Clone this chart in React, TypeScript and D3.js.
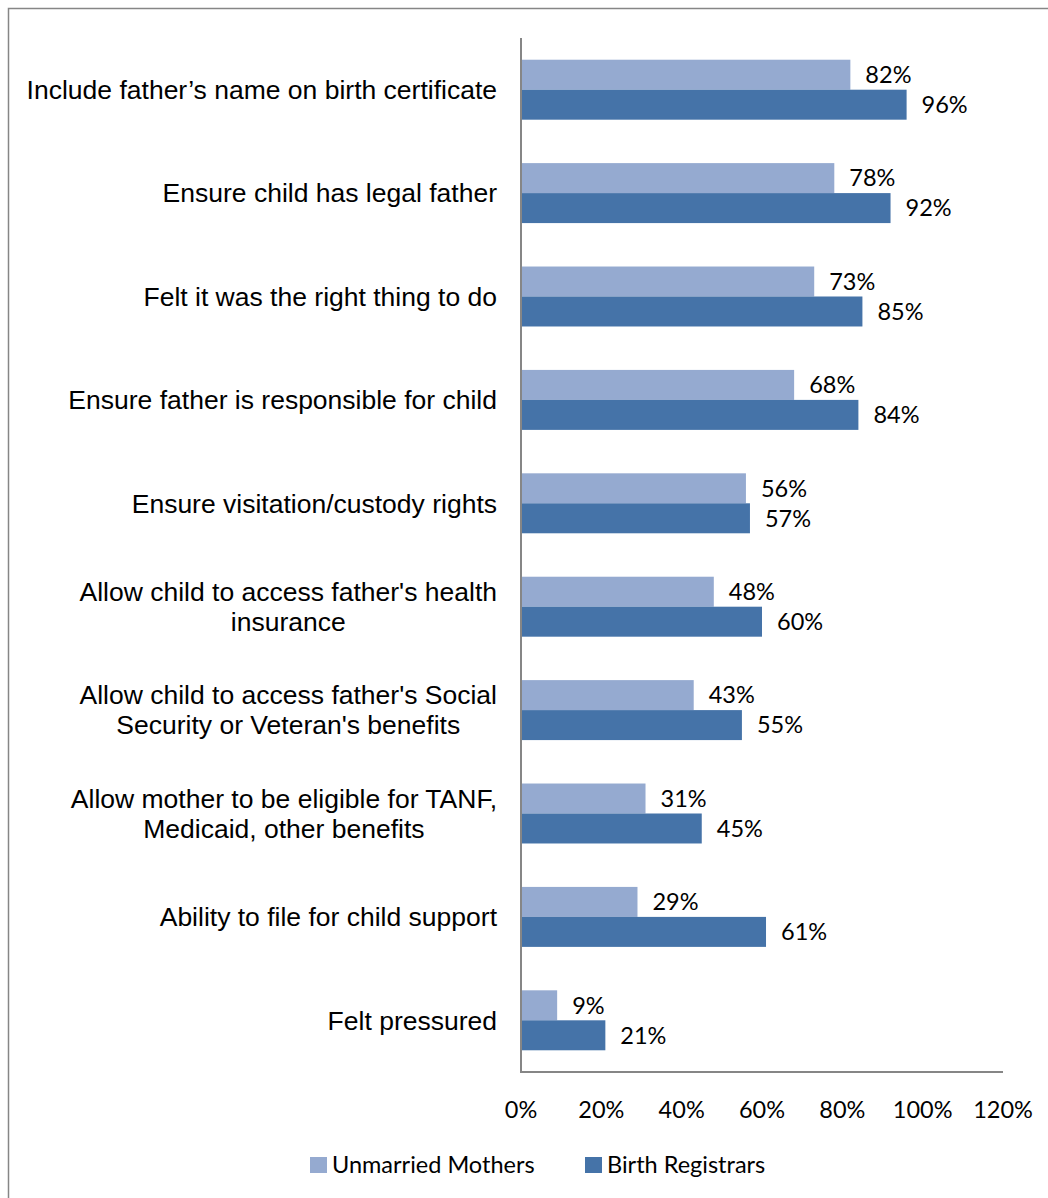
import React from "react";
import * as d3 from "d3";

const categories = [
  ["Include father’s name on birth certificate"],
  ["Ensure child has legal father"],
  ["Felt it was the right thing to do"],
  ["Ensure father is responsible for child"],
  ["Ensure visitation/custody rights"],
  ["Allow child to access father's health", "insurance"],
  ["Allow child to access father's Social", "Security or Veteran's benefits"],
  ["Allow mother to be eligible for TANF,", "Medicaid, other benefits"],
  ["Ability to file for child support"],
  ["Felt pressured"],
];
const unmarriedMothers = [82, 78, 73, 68, 56, 48, 43, 31, 29, 9];
const birthRegistrars = [96, 92, 85, 84, 57, 60, 55, 45, 61, 21];
const xTicks = [0, 20, 40, 60, 80, 100, 120];
const seriesNames = ["Unmarried Mothers", "Birth Registrars"];
const colors = ["#95AAD0", "#4573A8"];

export default function App() {
  const W = 1048, H = 1198;
  const x = d3.scaleLinear().domain([0, 120]).range([521, 1003]);
  const keys = categories.map((_, i) => String(i));
  const y = d3.scaleBand().domain(keys).range([38, 1072]).paddingInner(0.42).paddingOuter(0.21);
  const bw = y.bandwidth() / 2;
  const labelFont = "'Liberation Sans', Arial, sans-serif";
  const numFont = "Lato, 'Open Sans', sans-serif";
  const numSize = 23.5;
  const labelSize = 26.5;
  return (
    <svg width={W} height={H} style={{ position: "absolute", left: 0, top: 0, background: "#fff" }}>
      <rect x={8.5} y={8.5} width={W} height={H} fill="#fff" stroke="#868686" strokeWidth={1.5} />
      {categories.map((lines, i) => {
        const cy = (y(String(i)) as number) + y.bandwidth() / 2;
        const lh = 30;
        const y0 = cy - ((lines.length - 1) * lh) / 2;
        return (
          <g key={i}>
            <rect x={x(0)} y={cy - bw} width={x(unmarriedMothers[i]) - x(0)} height={bw} fill={colors[0]} />
            <rect x={x(0)} y={cy} width={x(birthRegistrars[i]) - x(0)} height={bw} fill={colors[1]} />
            <text x={x(unmarriedMothers[i]) + 15} y={cy - bw / 2} dy="0.35em" fontFamily={numFont} fontSize={numSize} fill="#000">
              {unmarriedMothers[i]}%
            </text>
            <text x={x(birthRegistrars[i]) + 15} y={cy + bw / 2} dy="0.35em" fontFamily={numFont} fontSize={numSize} fill="#000">
              {birthRegistrars[i]}%
            </text>
            {lines.length === 1 ? (
              <text x={497} y={cy} dy="0.35em" textAnchor="end" fontFamily={labelFont} fontSize={labelSize} fill="#000">
                {lines[0]}
              </text>
            ) : (
              lines.map((l, k) => (
                <text key={k} x={497} y={y0 + k * lh} dy="0.35em" textAnchor={k === 0 ? "end" : "middle"}
                  fontFamily={labelFont} fontSize={labelSize} fill="#000"
                  ref={(el) => {
                    if (!el || k !== 1) return;
                    const prev = el.previousSibling as SVGTextElement | null;
                    if (prev && prev.getComputedTextLength) {
                      const w = prev.getComputedTextLength();
                      el.setAttribute("x", String(497 - w / 2));
                    }
                  }}>
                  {l}
                </text>
              ))
            )}
          </g>
        );
      })}
      <line x1={x(0)} x2={x(0)} y1={38} y2={1072} stroke="#868686" strokeWidth={2} />
      <line x1={x(0) - 1} x2={x(120)} y1={1072} y2={1072} stroke="#868686" strokeWidth={2} />
      {xTicks.map((t) => (
        <text key={t} x={x(t)} y={1110} dy="0.35em" textAnchor="middle" fontFamily={numFont} fontSize={numSize} fill="#000">
          {t}%
        </text>
      ))}
      {seriesNames.map((s, i) => {
        const lx = [310, 585][i];
        return (
          <g key={s}>
            <rect x={lx} y={1157} width={17} height={16} fill={colors[i]} />
            <text x={lx + 22} y={1165} dy="0.35em" fontFamily={numFont} fontSize={numSize} fill="#000">
              {s}
            </text>
          </g>
        );
      })}
    </svg>
  );
}
